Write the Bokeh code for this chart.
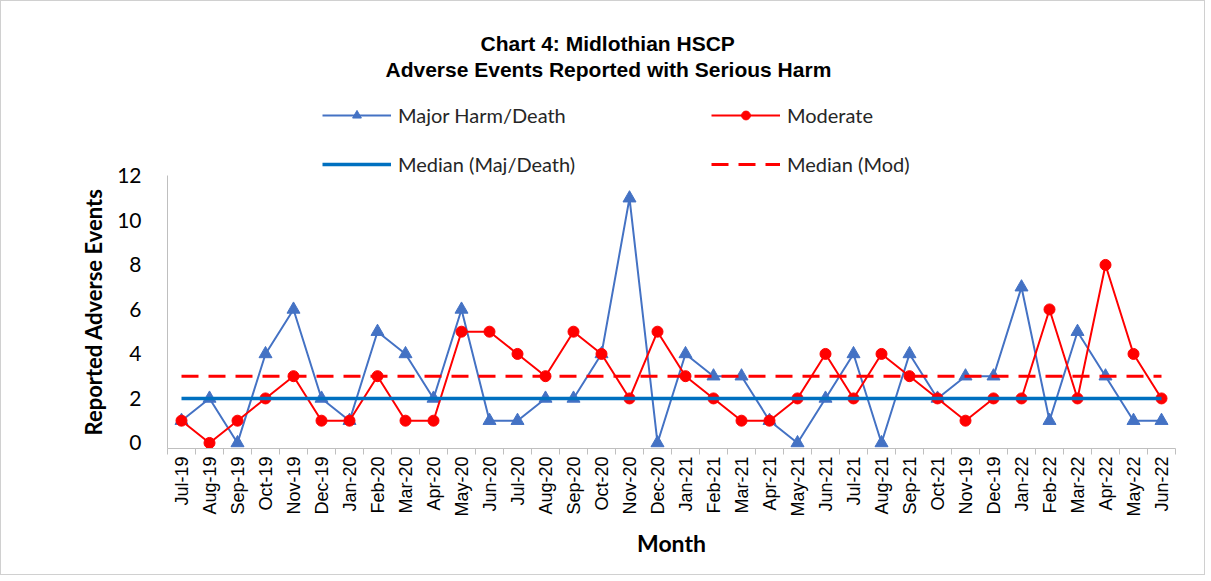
from bokeh.plotting import figure
from bokeh.models import (Range1d, FixedTicker, Legend, LegendItem, Title,
                          ColumnDataSource)
from bokeh.embed import file_html
from bokeh.resources import INLINE
import math

months = ["Jul-19", "Aug-19", "Sep-19", "Oct-19", "Nov-19", "Dec-19",
          "Jan-20", "Feb-20", "Mar-20", "Apr-20", "May-20", "Jun-20",
          "Jul-20", "Aug-20", "Sep-20", "Oct-20", "Nov-20", "Dec-20",
          "Jan-21", "Feb-21", "Mar-21", "Apr-21", "May-21", "Jun-21",
          "Jul-21", "Aug-21", "Sep-21", "Oct-21", "Nov-19", "Dec-19",
          "Jan-22", "Feb-22", "Mar-22", "Apr-22", "May-22", "Jun-22"]

major_harm = [1, 2, 0, 4, 6, 2, 1, 5, 4, 2, 6, 1, 1, 2, 2, 4, 11, 0,
              4, 3, 3, 1, 0, 2, 4, 0, 4, 2, 3, 3, 7, 1, 5, 3, 1, 1]
moderate = [1, 0, 1, 2, 3, 1, 1, 3, 1, 1, 5, 5, 4, 3, 5, 4, 2, 5,
            3, 2, 1, 1, 2, 4, 2, 4, 3, 2, 1, 2, 2, 6, 2, 8, 4, 2]
median_major = 2
median_moderate = 3
y_ticks = [0, 2, 4, 6, 8, 10, 12]

xs = list(range(len(months)))
src = ColumnDataSource(dict(
    x=xs, major=major_harm, mod=moderate,
    med_major=[median_major] * len(xs),
    med_mod=[median_moderate] * len(xs),
))

p = figure(width=1205, height=575, output_backend="svg", toolbar_location=None,
           x_range=Range1d(-0.5, len(months) - 0.5),
           y_range=Range1d(-0.25, 16.244),
           min_border_left=166, min_border_right=31,
           min_border_top=80, min_border_bottom=128)
p.styles = {"border": "1px solid #d0d0d0"}
p.outline_line_color = None
p.xgrid.visible = False
p.ygrid.visible = False
p.background_fill_color = "white"
p.border_fill_color = "white"

blue = "#4472C4"
red = "#FF0000"
med_blue = "#0070C0"

r_major = p.line("x", "major", source=src, line_color=blue, line_width=2)
# smaller markers (hidden beneath the plotted ones) used for the legend swatch
lg_tri = p.scatter("x", "major", source=src, marker="triangle", size=9,
                   fill_color=blue, line_color=blue)
s_major = p.scatter("x", "major", source=src, marker="triangle", size=13,
                    fill_color=blue, line_color=blue)
r_mod = p.line("x", "mod", source=src, line_color=red, line_width=2)
lg_cir = p.scatter("x", "mod", source=src, marker="circle", size=8,
                   fill_color=red, line_color=red)
s_mod = p.scatter("x", "mod", source=src, marker="circle", size=11,
                  fill_color=red, line_color=red)
r_medmaj = p.line("x", "med_major", source=src, line_color=med_blue, line_width=3.5)
r_medmod = p.line("x", "med_mod", source=src, line_color=red, line_width=3,
                  line_dash="17 10")

# axes
xa = p.xaxis[0]
xa.ticker = FixedTicker(ticks=xs, minor_ticks=[i - 0.5 for i in range(len(xs) + 1)])
xa.major_label_overrides = {i: m for i, m in enumerate(months)}
xa.major_label_orientation = math.pi / 2
xa.major_tick_out = 0
xa.major_tick_in = 0
xa.minor_tick_out = 6
xa.minor_tick_in = 0
xa.minor_tick_line_color = "#bfbfbf"
xa.axis_line_color = "#bfbfbf"
xa.major_label_text_font = "Liberation Sans"
xa.major_label_text_font_size = "18px"
xa.major_label_text_color = "#000000"
xa.major_label_standoff = 2
xa.axis_label = "Month"
xa.axis_label_text_font = "Lato"
xa.axis_label_text_font_style = "bold"
xa.axis_label_text_font_size = "23px"
xa.axis_label_text_color = "#000000"
xa.axis_label_standoff = 9

ya = p.yaxis[0]
ya.bounds = (-0.25, 12)
ya.ticker = FixedTicker(ticks=y_ticks)
ya.minor_tick_out = 0
ya.minor_tick_in = 0
ya.major_tick_out = 0
ya.major_tick_in = 0
ya.axis_line_color = "#bfbfbf"
ya.major_label_text_font = "Lato"
ya.major_label_text_font_size = "21px"
ya.major_label_text_color = "#000000"
ya.major_label_standoff = 26

ytitle = Title(text="Reported Adverse Events", align="left", offset=13,
               text_font="Lato", text_font_style="bold", text_font_size="22px",
               text_color="#000000", standoff=16)
p.add_layout(ytitle, "left")

legend = Legend(items=[
    LegendItem(label="Major Harm/Death", renderers=[r_major, lg_tri]),
    LegendItem(label="Median (Maj/Death)", renderers=[r_medmaj]),
    LegendItem(label="Moderate", renderers=[r_mod, lg_cir]),
    LegendItem(label="Median (Mod)", renderers=[r_medmod]),
], ncols=2, location=(155, 272), orientation="vertical",
    glyph_width=69, glyph_height=22, label_height=22, label_width=288,
    label_standoff=7, spacing=25, padding=0, margin=0,
    border_line_color=None, background_fill_alpha=0,
    label_text_font="Lato", label_text_font_size="20px",
    label_text_color="#262626")
p.add_layout(legend, "center")

# titles
t2 = Title(text="Adverse Events Reported with Serious Harm", align="left",
           text_font="Liberation Sans", text_font_style="bold",
           text_font_size="21px", text_color="#000000", standoff=2, offset=218)
t1 = Title(text="Chart 4: Midlothian  HSCP", align="left",
           text_font="Liberation Sans", text_font_style="bold",
           text_font_size="21px", text_color="#000000", standoff=0, offset=313)
p.add_layout(t2, "above")
p.add_layout(t1, "above")

open("out.html", "w").write(file_html(p, INLINE))
